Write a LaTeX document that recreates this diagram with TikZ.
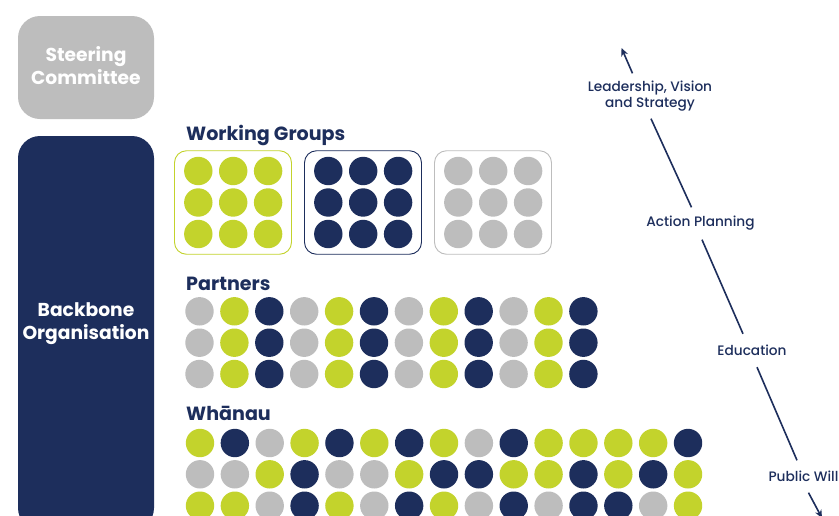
\documentclass[tikz,border=0pt]{standalone}
\usepackage{fontspec}
\setmainfont{Poppins}[BoldFont={Poppins Bold}]
\newfontfamily\medfont{Poppins Medium}
\definecolor{cn}{HTML}{1D2E5C}
\definecolor{cg}{HTML}{C3D32C}
\definecolor{cl}{HTML}{BDBDBD}
\tikzset{
  x=1pt,y=-1pt,
  dot/.style={circle,inner sep=0pt,minimum size=28.4pt},
  panel/.style={rounded corners=22pt,inner sep=0pt,minimum width=136pt,text=white,align=center,font=\bfseries\fontsize{18.7}{23}\selectfont},
  head/.style={anchor=base west,inner sep=0pt,text=cn,font=\bfseries\fontsize{19.1}{22}\selectfont},
  grp/.style={draw,rounded corners=12pt,fill=white,line width=0.9pt,inner sep=0pt,minimum width=117pt,minimum height=103.5pt},
  stage/.style={inner sep=0pt,text=cn,align=center,font=\medfont\fontsize{13.7}{16.5}\selectfont},
  link/.style={draw=cn,line width=1.6pt},
  tip/.style={link,-{Stealth[length=8pt,width=7pt]}},
}
\usetikzlibrary{arrows.meta}
\begin{document}
\begin{tikzpicture}
\useasboundingbox (0,0) rectangle (839,515);
\clip (0,0) rectangle (839,515);
\fill[white] (0,0) rectangle (839,515);
% side panels
\node[panel,fill=cl,minimum height=103pt] (steer) at (86,67.5) {};
\node[panel] (steerlabel) at (86,65.5) {Steering\\Committee};
\node[panel,fill=cn,minimum height=394pt] (back) at (86,333) {};
\node[panel] (backlabel) at (86,323.5) {Backbone\\Organisation};
% headings
\node[head] (hw) at (186,140) {Working Groups};
\node[head] (hp) at (186,290) {Partners};
\node[head] (hwh) at (186,420) {Whānau};
% working groups
\node[grp,draw=cg] (g1) at (233,202.5) {};
\node[grp,draw=cn] (g2) at (363,202.5) {};
\node[grp,draw=cl] (g3) at (493,202.5) {};
\foreach \gx/\gc/\gi in {198.3/cg/1,328.3/cn/2,458.3/cl/3}
  \foreach \ry [count=\r] in {171,202.5,234}
    \foreach \c in {0,1,2}
      \node[dot,fill=\gc] (w\gi-\r-\c) at ({\gx+34.9*\c},\ry) {};
% partners
\foreach \ry [count=\r] in {311.3,342.7,374}
  \foreach \c [count=\i from 0] in {l,g,n,l,g,n,l,g,n,l,g,n}
    \node[dot,fill=c\c] (p-\r-\i) at ({199.5+34.9*\i},\ry) {};
% whanau
\foreach \c [count=\i from 0] in {g,n,l,g,n,g,n,g,l,n,g,g,g,g,n}
  \node[dot,fill=c\c] (a-\i) at ({200+34.86*\i},443) {};
\foreach \c [count=\i from 0] in {l,l,g,n,l,l,g,n,n,g,g,n,g,n,g}
  \node[dot,fill=c\c] (b-\i) at ({200+34.86*\i},474.3) {};
\foreach \c [count=\i from 0] in {g,g,l,n,g,l,n,g,l,n,l,n,n,l,g}
  \node[dot,fill=c\c] (d-\i) at ({200+34.86*\i},505.7) {};
% stages
\node[stage,minimum height=45pt] (lead) at (650,96) {Leadership, Vision\\and Strategy};
\node[stage,minimum height=32pt] (act) at (700.5,223.5) {Action Planning};
\node[stage,minimum height=33pt] (edu) at (752,350.5) {Education};
\node[stage,minimum height=32pt] (pub) at (803.5,476.5) {Public Will};
\coordinate (topend) at (621.5,48);
\coordinate (botend) at (822,518);
\draw[tip] ([xshift=-17.5pt]lead.north) -- (topend);
\draw[link] ([xshift=1pt]lead.south) -- ([xshift=-9pt]act.north);
\draw[link] ([xshift=1.5pt]act.south) -- ([xshift=-9pt]edu.north);
\draw[link] ([xshift=5pt]edu.south) -- ([xshift=-6.5pt]pub.north);
\draw[tip] ([xshift=5pt]pub.south) -- (botend);
\end{tikzpicture}
\end{document}
